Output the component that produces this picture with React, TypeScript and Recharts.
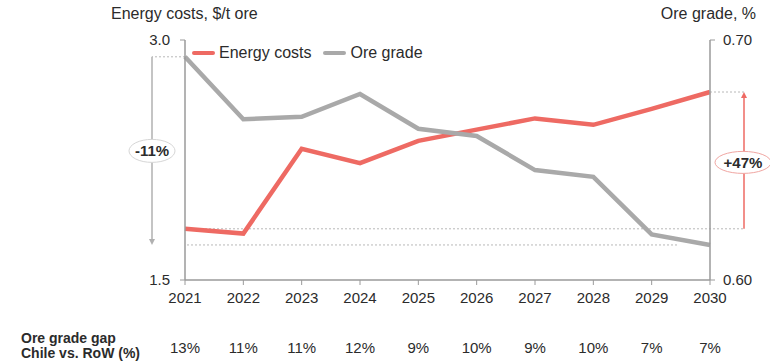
import React from 'react';
import { LineChart, Line, XAxis, YAxis, ReferenceLine } from 'recharts';

const years = ['2021', '2022', '2023', '2024', '2025', '2026', '2027', '2028', '2029', '2030'];
const energyCosts = [1.82, 1.79, 2.32, 2.23, 2.37, 2.44, 2.51, 2.47, 2.57, 2.675];
const oreGrade = [0.693, 0.667, 0.668, 0.6775, 0.663, 0.66, 0.6458, 0.643, 0.619, 0.6146];
const gradeGap = ['13%', '11%', '11%', '12%', '9%', '10%', '9%', '10%', '7%', '7%'];
const energyTicks = [1.5, 3.0];
const oreTicks = [0.6, 0.7];
const oreChangeLabel = '-11%';
const energyChangeLabel = '+47%';

const RED = '#EE6A63';
const GREY = '#A9A9A9';
const AXIS = '#9a9a9a';
const DOT = '#b8b8b8';
const TEXT = '#2b2b2b';
const FONT = '"Liberation Sans", Arial, Helvetica, sans-serif';

const data = years.map((year, i) => ({
  year,
  energy: energyCosts[i],
  ore: oreGrade[i],
}));

const gapByYear: Record<string, string> = {};
years.forEach((y, i) => {
  gapByYear[y] = gradeGap[i];
});

const LEFT_OFFSET = 33;
const RIGHT_OFFSET = 34;

// bracket left of the plot: ore grade 2021 -> 2030
const OreBracket = (p: any) => {
  const bx = p.x1 - LEFT_OFFSET;
  const top = Math.min(p.y1, p.y2);
  const bottom = Math.max(p.y1, p.y2);
  const mid = (top + bottom) / 2;
  return (
    <g>
      <line x1={p.x1} y1={top} x2={bx} y2={top} stroke={DOT} strokeWidth={1} strokeDasharray="2 2" />
      <line x1={bx} y1={top} x2={bx} y2={bottom - 3} stroke="#b0b0b0" strokeWidth={1.5} />
      <path d={`M${bx - 3},${bottom - 6} L${bx + 3},${bottom - 6} L${bx},${bottom} Z`} fill="#b0b0b0" />
      <ellipse cx={bx} cy={mid} rx={23} ry={11.5} fill="#fff" stroke="#d6d6d6" strokeWidth={1} />
      <text x={bx} y={mid} textAnchor="middle" dominantBaseline="central" fontSize={15} fontWeight="bold" fill={TEXT}>
        {oreChangeLabel}
      </text>
    </g>
  );
};

const OreBaseLine = (p: any) => (
  <line x1={p.x1 - LEFT_OFFSET} y1={p.y1} x2={p.x2} y2={p.y2} stroke={DOT} strokeWidth={1} strokeDasharray="2 2" />
);

// bracket right of the plot: energy costs 2021 -> 2030
const EnergyBracket = (p: any) => {
  const bx = p.x1 + RIGHT_OFFSET;
  const top = Math.min(p.y1, p.y2);
  const bottom = Math.max(p.y1, p.y2);
  const mid = (top + bottom) / 2 + 2;
  return (
    <g>
      <line x1={p.x1} y1={top} x2={bx} y2={top} stroke={DOT} strokeWidth={1} strokeDasharray="2 2" />
      <line x1={bx} y1={bottom} x2={bx} y2={top + 3} stroke={RED} strokeWidth={1.5} />
      <path d={`M${bx - 3},${top + 6} L${bx + 3},${top + 6} L${bx},${top} Z`} fill={RED} />
      <ellipse cx={bx - 1} cy={mid} rx={28} ry={11} fill="#fff" stroke="#f0a6a2" strokeWidth={1} />
      <text x={bx - 1} y={mid} textAnchor="middle" dominantBaseline="central" fontSize={15} fontWeight="bold" fill={TEXT}>
        {energyChangeLabel}
      </text>
    </g>
  );
};

const EnergyBaseLine = (p: any) => (
  <line x1={p.x1} y1={p.y1} x2={p.x2 + RIGHT_OFFSET} y2={p.y2} stroke={DOT} strokeWidth={1} strokeDasharray="2 2" />
);

const tickStyle = { fontSize: 15, fill: TEXT };

const LegendItem: React.FC<{ color: string; label: string }> = ({ color, label }) => (
  <div style={{ display: 'flex', alignItems: 'center', marginRight: 12 }}>
    <div style={{ width: 23, height: 4, background: color, borderRadius: 2, marginRight: 4 }} />
    <span>{label}</span>
  </div>
);

export default function App() {
  return (
    <div
      style={{
        position: 'absolute',
        left: 0,
        top: 0,
        width: 770,
        height: 361,
        background: '#fff',
        fontFamily: FONT,
        color: TEXT,
      }}
    >
      <div style={{ position: 'absolute', left: 111, top: 5, fontSize: 16 }}>Energy costs, $/t ore</div>
      <div style={{ position: 'absolute', right: 14, top: 5, fontSize: 16 }}>Ore grade, %</div>
      <div style={{ position: 'absolute', left: 192, top: 44, fontSize: 16, display: 'flex' }}>
        <LegendItem color={RED} label="Energy costs" />
        <LegendItem color={GREY} label="Ore grade" />
      </div>
      <div
        style={{
          position: 'absolute',
          left: 21,
          top: 331,
          fontSize: 14,
          fontWeight: 'bold',
          lineHeight: '15px',
        }}
      >
        Ore grade gap
        <br />
        Chile vs. RoW (%)
      </div>
      <LineChart width={770} height={361} data={data} margin={{ top: 40, right: 10, bottom: 11, left: 145 }}>
        <XAxis
          xAxisId={0}
          dataKey="year"
          height={30}
          axisLine={{ stroke: AXIS, strokeWidth: 1.5 }}
          tickLine={{ stroke: AXIS }}
          tickSize={5}
          tickMargin={7}
          tick={tickStyle}
          interval={0}
        />
        <XAxis
          xAxisId={1}
          dataKey="year"
          height={40}
          axisLine={false}
          tickLine={false}
          tickSize={0}
          tickMargin={32}
          tick={tickStyle}
          interval={0}
          tickFormatter={(v: string) => gapByYear[v]}
        />
        <YAxis
          yAxisId="left"
          width={40}
          domain={[1.5, 3]}
          ticks={energyTicks}
          tickFormatter={(v: number) => v.toFixed(1)}
          axisLine={{ stroke: AXIS, strokeWidth: 1.5 }}
          tickLine={{ stroke: AXIS }}
          tickSize={5}
          tickMargin={10}
          tick={tickStyle}
        />
        <YAxis
          yAxisId="right"
          orientation="right"
          width={50}
          domain={[0.6, 0.7]}
          ticks={oreTicks}
          tickFormatter={(v: number) => v.toFixed(2)}
          axisLine={{ stroke: AXIS, strokeWidth: 1.5 }}
          tickLine={{ stroke: AXIS }}
          tickSize={5}
          tickMargin={8}
          tick={tickStyle}
        />
        <ReferenceLine xAxisId={0} yAxisId="right" y={oreGrade[oreGrade.length - 1]} shape={OreBaseLine} />
        <ReferenceLine xAxisId={0} yAxisId="left" y={energyCosts[0]} shape={EnergyBaseLine} />
        <ReferenceLine
          xAxisId={0}
          yAxisId="right"
          segment={[
            { x: years[0], y: oreGrade[0] },
            { x: years[0], y: oreGrade[oreGrade.length - 1] },
          ]}
          shape={OreBracket}
        />
        <ReferenceLine
          xAxisId={0}
          yAxisId="left"
          segment={[
            { x: years[years.length - 1], y: energyCosts[energyCosts.length - 1] },
            { x: years[years.length - 1], y: energyCosts[0] },
          ]}
          shape={EnergyBracket}
        />
        <Line
          xAxisId={0}
          yAxisId="left"
          dataKey="energy"
          stroke={RED}
          strokeWidth={4.5}
          dot={false}
          isAnimationActive={false}
        />
        <Line
          xAxisId={0}
          yAxisId="right"
          dataKey="ore"
          stroke={GREY}
          strokeWidth={4.5}
          dot={false}
          isAnimationActive={false}
        />
      </LineChart>
    </div>
  );
}
